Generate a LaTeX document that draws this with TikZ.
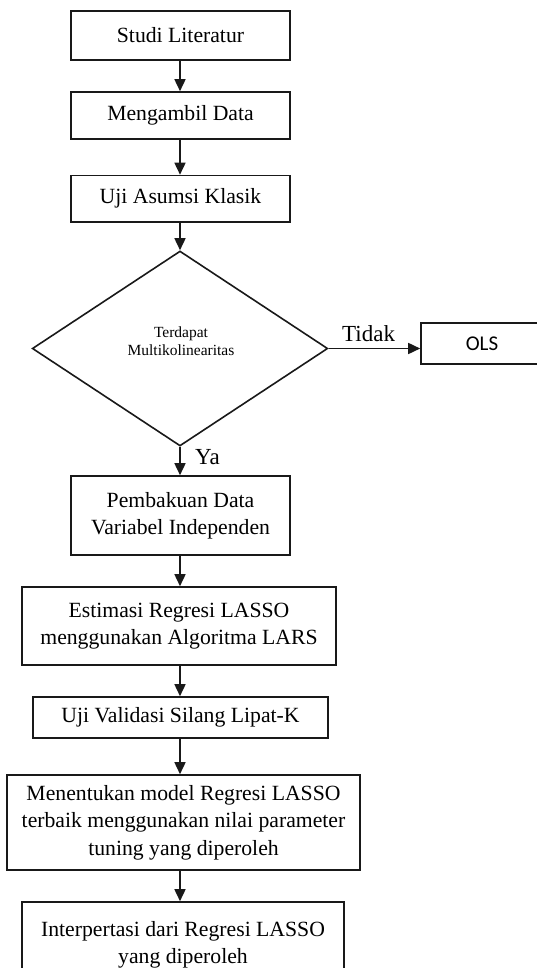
\documentclass[tikz,border=0pt]{standalone}
\usepackage{fontspec}
\setmainfont{Liberation Serif}
\newfontfamily\olsfont{Carlito}
\usetikzlibrary{arrows.meta,shapes.geometric}

\tikzset{
  stepbox/.style={draw=black!90, line width=1.6pt, inner sep=0pt, align=center,
    font=\fontsize{21.7}{27.4}\selectfont},
  decision/.style={draw=black!90, line width=1.6pt, diamond, inner sep=0pt},
  flow/.style={draw=black!90, line width=1.6pt, -{Triangle[length=12pt,width=11pt]}},
  answer/.style={font=\fontsize{23}{26}\selectfont, inner sep=0pt},
}

% a box given by its corners (x1,y1) and (x2,y2) in picture units
\newcommand\stepnode[6]{%
  \node[stepbox, minimum width={(#4)-(#2)}, minimum height={(#5)-(#3)}]
    (#1) at ({((#2)+(#4))/2},{((#3)+(#5))/2}) {#6};}

\begin{document}
\begin{tikzpicture}[x=1pt,y=-1pt]
  \useasboundingbox (0,0) rectangle (537,968);
  \clip (0,0) rectangle (537,968);
  \fill[white] (0,0) rectangle (537,968);

  \coordinate (ax) at (180,0);

  \stepnode{lit}{71}{11}{290}{60}{Studi Literatur}
  \stepnode{data}{71}{92}{290}{139}{Mengambil Data}
  \stepnode{asumsi}{71}{175.5}{290}{222}{Uji Asumsi Klasik}

  \node[decision, minimum width=295.5pt, minimum height=195pt, aspect=1.515]
    (multi) at (180,348.5) {};
  \node[font=\fontsize{15.5}{18}\selectfont, align=center, inner sep=0pt]
    (multitext) at (181,341) {Terdapat\\Multikolinearitas};

  \node[draw=black!90, line width=1.6pt, inner sep=0pt, minimum width=122pt,
    minimum height=41pt, font=\olsfont\fontsize{21}{24}\selectfont]
    (ols) at (482,343.5) {OLS};

  \stepnode{baku}{71}{476}{290}{555}{Pembakuan Data\\Variabel Independen}
  \stepnode{lasso}{22}{587}{336}{665}{Estimasi Regresi LASSO\\menggunakan Algoritma LARS}
  \stepnode{cv}{33}{697}{328}{738}{Uji Validasi Silang Lipat-K}
  \stepnode{model}{7}{775}{360}{870}{Menentukan model Regresi LASSO\\terbaik menggunakan nilai parameter\\tuning yang diperoleh}
  \stepnode{interp}{22}{902}{344}{988}{Interpertasi dari Regresi LASSO\\yang diperoleh}

  \draw[flow] (lit.south -| ax) -- (data.north -| ax);
  \draw[flow] (data.south -| ax) -- (asumsi.north -| ax);
  \draw[flow] (asumsi.south -| ax) -- (multi.north);
  \draw[flow] (multi.east) -- (ols.west |- multi.east);
  \node[answer, anchor=base west] (tidak) at (342,341) {Tidak};
  \draw[flow] (multi.south) -- (baku.north -| multi.south);
  \node[answer, anchor=base west] (ya) at (195,464) {Ya};
  \draw[flow] (baku.south -| ax) -- (lasso.north -| ax);
  \draw[flow] (lasso.south -| ax) -- (cv.north -| ax);
  \draw[flow] (cv.south -| ax) -- (model.north -| ax);
  \draw[flow] (model.south -| ax) -- (interp.north -| ax);
\end{tikzpicture}
\end{document}
